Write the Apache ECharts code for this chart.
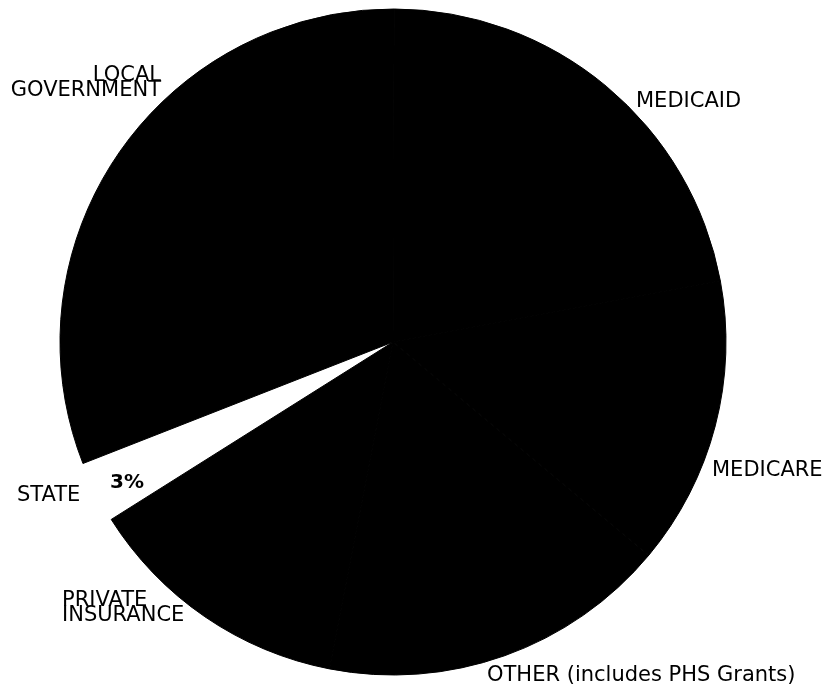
<!DOCTYPE html>
<html>
<head>
<meta charset="utf-8">
<title>Sources of Funds</title>
<script src="https://cdn.jsdelivr.net/npm/echarts@6/dist/echarts.min.js"></script>
<style>
  html, body { margin: 0; padding: 0; background: #ffffff; }
  #chart { width: 824px; height: 685px; }
</style>
</head>
<body>
<div id="chart"></div>
<script>
// Funding sources, in clockwise order starting with the STATE wedge
const categories = ['STATE', 'LOCAL\nGOVERNMENT', 'MEDICAID', 'MEDICARE', 'OTHER (includes PHS Grants)', 'PRIVATE\nINSURANCE'];
const shares = [3, 31, 22, 14, 17, 13];

// Only the STATE slice is left open; everything else is solid black
const sliceColors = ['#ffffff', '#000000', '#000000', '#000000', '#000000', '#000000'];

// Where each category name sits around the disc
const labelSpots = [
  { x: 17,  y: 496, align: 'left' },
  { x: 161, y: 83,  align: 'right' },
  { x: 636, y: 102, align: 'left' },
  { x: 712, y: 471, align: 'left' },
  { x: 487, y: 676, align: 'left' },
  { x: 62,  y: 608, align: 'left' }
];

const FONT = '"DejaVu Sans", "Liberation Sans", Arial, sans-serif';

const chart = echarts.init(document.getElementById('chart'), null, { renderer: 'canvas' });

chart.setOption({
  backgroundColor: '#ffffff',
  animation: false,
  series: [{
    type: 'pie',
    center: [393, 342],
    radius: 333,
    startAngle: 212.2,
    clockwise: true,
    avoidLabelOverlap: false,
    silent: true,
    emphasis: { disabled: true },
    label: {
      show: true,
      position: 'outside',
      color: '#000000',
      fontFamily: FONT,
      fontSize: 21,
      lineHeight: 15,
      formatter: '{b}'
    },
    labelLine: { show: false },
    labelLayout: function (params) {
      const spot = labelSpots[params.dataIndex];
      return { x: spot.x, y: spot.y, align: spot.align, verticalAlign: 'middle' };
    },
    data: categories.map(function (name, i) {
      const open = sliceColors[i] === '#ffffff';
      return {
        name: name,
        value: shares[i],
        itemStyle: {
          color: sliceColors[i],
          // a same-colour outline hides the seams between the black slices
          borderColor: sliceColors[i],
          borderWidth: open ? 0 : 1
        }
      };
    })
  }],
  graphic: [{
    type: 'text',
    left: 110,
    top: 473,
    z: 100,
    silent: true,
    style: {
      text: shares[0] + '%',
      fill: '#000000',
      fontFamily: FONT,
      fontSize: 20,
      fontWeight: 'bold'
    }
  }]
});
</script>
</body>
</html>
